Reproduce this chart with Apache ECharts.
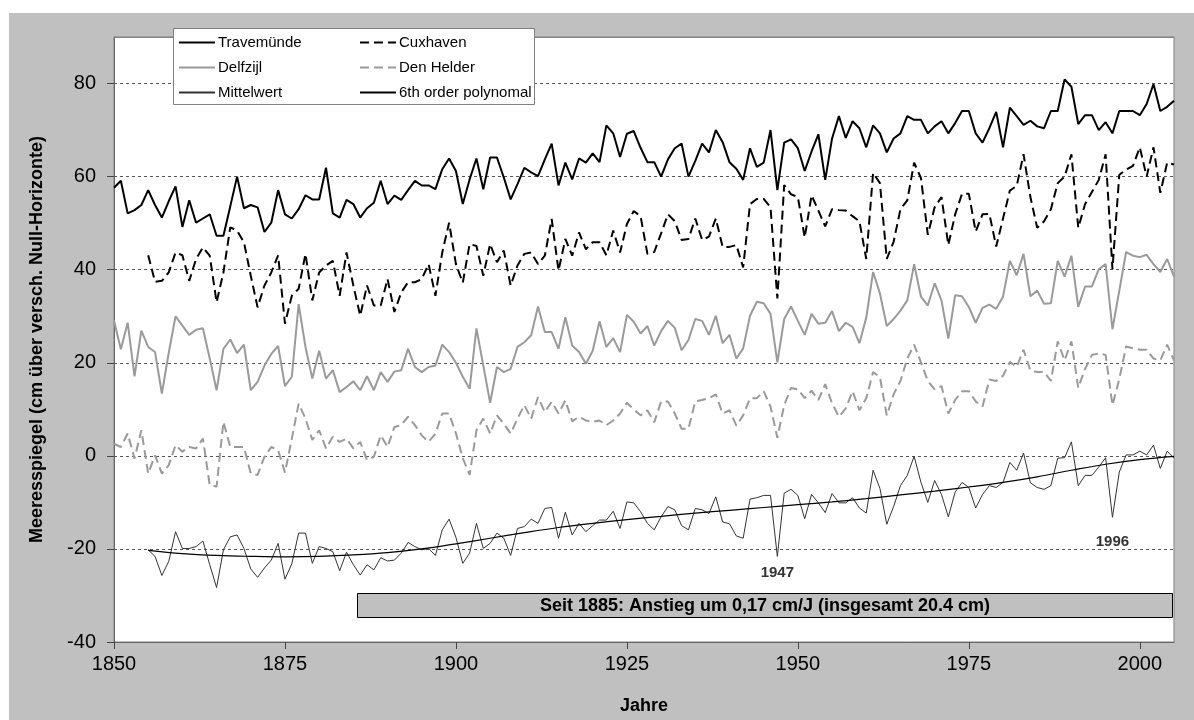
<!DOCTYPE html>
<html>
<head>
<meta charset="utf-8">
<script src="https://cdn.jsdelivr.net/npm/echarts@6/dist/echarts.min.js"></script>
<style>
  html, body { margin: 0; padding: 0; background: #fff; }
  #chart { width: 1194px; height: 720px; }
</style>
</head>
<body>
<div id="chart"></div>
<script>
// Annual mean sea level at four North Sea / Baltic gauges (cm above the local datum)
const travemuendeStart = 1850;
const travemuende = [
  57.6, 59.1, 52.1, 52.8, 53.9, 57.1, 53.9, 51.2, 54.7, 57.9,
  49.2, 54.9, 50.1, 51, 51.9, 47.3, 47.3, 53.6, 60, 53.2,
  53.9, 53.4, 48.1, 50.1, 57.1, 51.9, 51, 53, 56, 55.1,
  55.1, 61.9, 52.1, 51.2, 55, 54.1, 51.2, 53.2, 54.4, 59.1,
  54.1, 55.9, 55, 57.1, 59.1, 58.1, 58.1, 57.3, 61.6, 63.9,
  61.2, 54.1, 59.4, 63.9, 57.3, 64.1, 64.1, 59.8, 55.1, 58.4,
  61.9, 60.9, 60.1, 63.7, 67.1, 58.1, 63, 59.4, 63.9, 63,
  65, 63.1, 71, 69.3, 64.2, 69.2, 69.8, 66.2, 63.1, 63.1,
  60, 63.7, 66.1, 67.1, 60, 63.4, 67.1, 65.2, 70, 67.4,
  63.1, 61.7, 59.3, 66.1, 62.1, 63, 70, 57.1, 67.3, 68,
  66.1, 61.2, 65.4, 69.1, 59.3, 68.2, 73, 68.3, 71.9, 70.4,
  66.3, 71, 69.3, 65.2, 68.2, 69.3, 73, 72.2, 72.2, 69.3,
  70.8, 71.9, 69.3, 71.5, 74.1, 74.1, 69.3, 67.3, 70.4, 73.9,
  66.3, 74.8, 73, 71.1, 72, 70.8, 70.4, 74.1, 74.1, 80.9,
  79.3, 71.3, 73.2, 73.2, 70, 71.7, 69.3, 74.1, 74.1, 74.1,
  73.2, 75.6, 79.9, 74.1, 75, 76.3
];

const cuxhavenStart = 1855;
const cuxhaven = [
  43.1, 37.4, 37.6, 39.4, 43.7,
  43.1, 37.6, 42.3, 44.8, 43, 33, 39.4, 49.1, 48.4, 45.9,
  38.7, 31.9, 36.6, 39.4, 43.1, 28.4, 34.4, 35.9, 43.4, 33.4,
  39.4, 40.9, 41.9, 34.4, 43.7, 36.6, 30.1, 36.6, 32.3, 32.3,
  38, 30.9, 35.1, 37.3, 37.3, 38, 41.2, 34.4, 43.7, 50.1,
  41.2, 37.2, 45.5, 45.1, 38.7, 45.5, 41.6, 44.1, 36.6, 40.9,
  43.4, 43.7, 41.2, 43, 50.9, 39.8, 46.6, 43, 48, 44.4,
  45.9, 45.9, 43.1, 48.4, 43.7, 49.8, 52.6, 51.5, 43.4, 43.8,
  47.8, 51.9, 50.4, 46.4, 46.6, 51, 46.4, 47.1, 51, 44.9,
  44.9, 45.3, 40.5, 54.1, 55.2, 55.2, 53.4, 33.8, 58.2, 56.2,
  55.6, 46.9, 56, 52.7, 49.3, 53, 52.8, 52.7, 51.5, 50.4,
  42.3, 60.8, 58.6, 42.3, 46, 53, 54.9, 63, 59.7, 47.5,
  53.4, 55.6, 45.3, 51.9, 56.3, 56.3, 48.2, 51.9, 52, 45,
  51, 57, 58, 64.8, 55.6, 49, 50.4, 53, 58.6, 60,
  64.8, 49, 54.1, 56.7, 59.3, 64.8, 40.1, 60.4, 61.5, 62.3,
  66.3, 60, 66.3, 56.5, 63, 62.6
];

const delfzijlStart = 1850;
const delfzijl = [
  29.1, 22.9, 28.6, 17.1, 26.9, 23.4, 22.3, 13.4, 22.1, 30,
  28, 26, 27.1, 27.4, 20.9, 14.1, 23, 25, 22.1, 23.9,
  14.1, 15.9, 19.4, 21.9, 23.6, 15, 17, 32.6, 23.4, 16.6,
  22.6, 16.6, 18.4, 13.7, 14.8, 16, 14.1, 17.1, 14.1, 18,
  15.9, 18.1, 18.4, 23, 19.1, 18, 19.1, 19.4, 23.9, 22.3,
  20, 17, 14.4, 27.4, 19.4, 11.4, 19.1, 18, 18.7, 23.4,
  24.4, 25.9, 32.1, 26.6, 26.6, 23, 29.8, 23.7, 22.3, 19.8,
  22.6, 28.9, 23.4, 25.3, 22.3, 30.3, 28.8, 26.3, 27.9, 23.7,
  26.8, 29, 27.5, 22.7, 24.9, 29.4, 29, 26, 30.1, 24.2,
  26, 20.9, 23.1, 30.1, 33.1, 32.8, 30.5, 20.1, 29.4, 32.1,
  29, 26, 30.5, 28.4, 28.6, 31.1, 26.8, 28.6, 27.7, 24.2,
  29.7, 39.5, 34.9, 27.9, 29.4, 31.2, 33.4, 41.2, 34.2, 32.3,
  37.1, 33.4, 25.2, 34.5, 34.3, 32, 28.6, 31.8, 32.5, 31.6,
  34.2, 41.9, 38.8, 43.4, 34.3, 35.5, 32.7, 32.8, 41.9, 38.5,
  43, 32, 36.4, 36.4, 40.1, 41.2, 27.2, 35.5, 43.8, 43,
  42.7, 43.2, 41.2, 39.5, 42.3, 38.5
];

const denHelderStart = 1850;
const denHelder = [
  2.6, 1.9, 4.8, -0.6, 5.5, -3.8, 0.1, -3.8, -2, 2.3,
  0.9, 1.9, 1.6, 3.7, -6.3, -6.6, 7.3, 1.9, 1.9, 1.9,
  -3.8, -4.1, -0.2, 1.9, 1.2, -3.6, 3.7, 11.2, 8, 3.4,
  5.5, 1.6, 4.1, 3, 3.7, 1.6, 3, -0.9, -0.2, 4.4,
  1.9, 6.2, 6.6, 8.4, 6.6, 4.4, 3, 4.8, 9.1, 9.1,
  4.8, -0.5, -4.1, 5.5, 8, 4.8, 8.7, 6.9, 4.8, 8,
  10.9, 8, 12.6, 9.4, 11.6, 9.1, 11.9, 7.4, 8.4, 7.6,
  7.3, 7.6, 6.6, 7.6, 9.1, 11.4, 10, 8.7, 9.8, 7.2,
  11.7, 11.7, 9.1, 5.8, 5.8, 11.7, 12, 12.4, 13.2, 9.1,
  9.8, 6.5, 8.7, 12.4, 12.4, 13.9, 10.6, 3.9, 10.9, 14.6,
  14.3, 12.4, 14, 12, 15.4, 11.3, 8.4, 10.2, 13.9, 9.8,
  12.4, 18, 16.9, 8.7, 13.2, 16.1, 20.9, 23.9, 20.1, 16.1,
  14.3, 15, 9.1, 12, 13.9, 13.9, 11.7, 10.6, 16.4, 16.1,
  17.2, 20.2, 19.1, 22.8, 18.3, 18, 18, 16.1, 24.6, 20.5,
  24.6, 14.6, 18.7, 21.7, 22, 21.7, 10.9, 16.5, 23.5, 23.1,
  22.8, 22.8, 20.9, 20.5, 23.9, 20.5
];

// Mean of the four gauges, shifted down for readability
const mittelwertStart = 1855;
const mittelwert = [
  -20.2, -21.6, -25.7, -22.7, -16.3,
  -19.9, -19.9, -19.5, -18.3, -23.4, -28.3, -20.2, -17.4, -17, -19.9,
  -24.3, -26.1, -24.1, -22.4, -18.8, -26.5, -23.2, -16.6, -16.6, -23.1,
  -19.5, -19.9, -20.6, -24.7, -20.7, -23.4, -25.6, -23.4, -24.5, -21.9,
  -22.6, -22.4, -20.9, -18.6, -19.5, -20.2, -19.9, -21.4, -15.9, -13.6,
  -17.5, -23.1, -20.9, -14.5, -19.9, -18.8, -16.6, -17.7, -21.4, -15.6,
  -15.2, -13.6, -14.5, -11.3, -11.1, -17.7, -12.1, -17, -14.5, -16.3,
  -15, -13.8, -13.8, -11.9, -15.6, -9.9, -10.1, -12, -14.5, -15.9,
  -13.1, -10.9, -11.6, -15, -15.9, -11.3, -11.6, -12.4, -8.8, -14.2,
  -14.6, -17.2, -17.7, -9.3, -9, -8.5, -8.5, -21.6, -8, -7.2,
  -8.5, -13.5, -8.3, -10.1, -12.2, -8.1, -10.1, -10.1, -9, -11.2,
  -12.3, -3.1, -7, -14.7, -10.9, -6.4, -4.2, -0.1, -5.7, -10,
  -5.3, -8.3, -13.1, -7.8, -5.7, -6.8, -11.2, -8.3, -6.4, -6.8,
  -5.7, -1.4, -3.1, 0.6, -5.8, -6.8, -7.2, -6.4, -0.5, -0.4,
  3, -6.4, -4.2, -4.2, -2.4, -0.4, -13.2, -3.5, 0.2, 0.2,
  1, 0.2, 2.3, -2.7, 1, -0.5
];

// 6th order polynomial fit through the mean, sampled every 5 years
const polyYears = [
  1855, 1860, 1865, 1870, 1875, 1880, 1885, 1890, 1895, 1900,
  1905, 1910, 1915, 1920, 1925, 1930, 1935, 1940, 1945, 1950,
  1955, 1960, 1965, 1970, 1975, 1980, 1985, 1990, 1995, 2000, 2005
];
const polyValues = [
  -20.3, -21.0, -21.4, -21.6, -21.7, -21.6, -21.3, -20.8, -20.0, -18.9,
  -17.7, -16.5, -15.4, -14.5, -13.7, -13.0, -12.3, -11.7, -11.1, -10.5,
  -9.9, -9.2, -8.4, -7.6, -6.7, -5.7, -4.5, -3.1, -1.8, -0.8, -0.1
];

const xTickStep = 25;
const yTickStep = 20;
const highlightYears = [1947, 1996];
const trendNote = 'Seit 1885: Anstieg um 0,17 cm/J (insgesamt 20.4 cm)';

const toPairs = (start, values) => values.map((v, i) => [start + i, v]);
const mittelPairs = toPairs(mittelwertStart, mittelwert);

const FONT = '"Liberation Sans", Arial, Helvetica, sans-serif';

// gap between a highlighted dip and its year label
const highlightLabelGap = { 1947: 8, 1996: 17 };

const chart = echarts.init(document.getElementById('chart'), null, { renderer: 'canvas' });

const legendCommon = {
  orient: 'vertical',
  top: 35,
  itemWidth: 36,
  itemHeight: 14,
  itemGap: 10,
  padding: 0,
  selectedMode: false,
  z: 60,
  itemStyle: { opacity: 0, borderWidth: 0 },
  textStyle: { fontFamily: FONT, fontSize: 15, color: '#000', padding: [0, 0, 0, -2] }
};

const option = {
  animation: false,
  backgroundColor: '#c0c0c0',
  textStyle: { fontFamily: FONT },
  grid: {
    left: 114, right: 20, top: 37, bottom: 77,
    show: true, backgroundColor: '#ffffff',
    borderColor: '#808080', borderWidth: 1,
    containLabel: false
  },
  legend: [
    Object.assign({}, legendCommon, { left: 178, data: ['Travemünde', 'Delfzijl', 'Mittelwert'] }),
    Object.assign({}, legendCommon, { left: 359, data: ['Cuxhaven', 'Den Helder', '6th order polynomal'] })
  ],
  xAxis: {
    type: 'value',
    min: 1850, max: 2005, interval: xTickStep,
    name: 'Jahre', nameLocation: 'middle', nameGap: 55,
    nameTextStyle: { fontFamily: FONT, fontSize: 18, fontWeight: 'bold', color: '#000' },
    axisLine: { show: true, onZero: false, lineStyle: { color: '#666', width: 1 } },
    axisTick: { show: true, inside: false, length: 7, lineStyle: { color: '#444' } },
    axisLabel: {
      fontFamily: FONT, fontSize: 20, color: '#000', margin: 12,
      showMaxLabel: false,
      formatter: v => (v % xTickStep === 0 ? String(v) : '')
    },
    splitLine: { show: false }
  },
  yAxis: {
    type: 'value',
    min: -40, max: 90, interval: yTickStep,
    name: 'Meeresspiegel (cm über versch. Null-Horizonte)',
    nameLocation: 'middle', nameGap: 68, nameRotate: 90,
    nameTextStyle: { fontFamily: FONT, fontSize: 18, fontWeight: 'bold', color: '#000' },
    axisLine: { show: true, onZero: false, lineStyle: { color: '#666', width: 1 } },
    axisTick: { show: true, inside: false, length: 7, lineStyle: { color: '#444' } },
    axisLabel: {
      fontFamily: FONT, fontSize: 20, color: '#000', margin: 18,
      showMaxLabel: false,
      formatter: v => ((v - (-40)) % yTickStep === 0 ? String(v) : '')
    },
    splitLine: { show: true, lineStyle: { color: '#555', width: 1, type: [3, 3] } }
  },
  series: [
    {
      name: 'Travemünde', type: 'line', symbol: 'none', z: 5,
      data: toPairs(travemuendeStart, travemuende),
      lineStyle: { color: '#000', width: 2 }, itemStyle: { color: '#000' }
    },
    {
      name: 'Cuxhaven', type: 'line', symbol: 'none', z: 5,
      data: toPairs(cuxhavenStart, cuxhaven),
      lineStyle: { color: '#000', width: 2, type: [9, 5] }, itemStyle: { color: '#000' }
    },
    {
      name: 'Delfzijl', type: 'line', symbol: 'none', z: 4,
      data: toPairs(delfzijlStart, delfzijl),
      lineStyle: { color: '#9a9a9a', width: 2 }, itemStyle: { color: '#9a9a9a' }
    },
    {
      name: 'Den Helder', type: 'line', symbol: 'none', z: 4,
      data: toPairs(denHelderStart, denHelder),
      lineStyle: { color: '#9a9a9a', width: 2, type: [9, 5] }, itemStyle: { color: '#9a9a9a' }
    },
    {
      name: 'Mittelwert', type: 'line', symbol: 'none', z: 4,
      data: mittelPairs,
      lineStyle: { color: '#333', width: 1 }, itemStyle: { color: '#333' },
      markPoint: {
        symbol: 'circle', symbolSize: 1,
        itemStyle: { color: 'rgba(0,0,0,0)' },
        label: {
          show: true, position: 'bottom',
          fontFamily: FONT, fontSize: 15, fontWeight: 'bold', color: '#333',
          formatter: p => p.name
        },
        data: highlightYears.map(y => ({
          name: String(y),
          coord: [y, mittelPairs[y - mittelwertStart][1]],
          label: { distance: highlightLabelGap[y] }
        }))
      }
    },
    {
      name: '6th order polynomal', type: 'line', symbol: 'none', z: 6,
      smooth: 0.4,
      data: polyYears.map((y, i) => [y, polyValues[i]]),
      lineStyle: { color: '#000', width: 1.2 }, itemStyle: { color: '#000' }
    }
  ],
  graphic: [
    // white margin strips outside the grey chart frame
    { type: 'rect', shape: { x: 0, y: 0, width: 1194, height: 13 }, style: { fill: '#fff' }, z: -1, silent: true },
    { type: 'rect', shape: { x: 0, y: 0, width: 9, height: 720 }, style: { fill: '#fff' }, z: -1, silent: true },
    // solid top edge of the plot frame
    {
      type: 'line', z: 40, silent: true,
      shape: { x1: 114, y1: 37.5, x2: 1174, y2: 37.5 },
      style: { stroke: '#808080', lineWidth: 1 }
    },
    // legend frame
    {
      type: 'rect', z: 50, silent: true,
      shape: { x: 173.5, y: 28.5, width: 361, height: 76 },
      style: { fill: '#fff', stroke: '#808080', lineWidth: 1 }
    },
    // trend note box
    {
      type: 'rect', z: 50, silent: true,
      shape: { x: 357.5, y: 593.5, width: 815, height: 24 },
      style: { fill: '#c0c0c0', stroke: '#000', lineWidth: 1 }
    },
    {
      type: 'text', z: 51, silent: true,
      x: 765, y: 606,
      style: {
        text: trendNote, fontFamily: FONT, fontSize: 18, fontWeight: 'bold',
        fill: '#000', align: 'center', verticalAlign: 'middle'
      }
    }
  ]
};

chart.setOption(option);
</script>
</body>
</html>
